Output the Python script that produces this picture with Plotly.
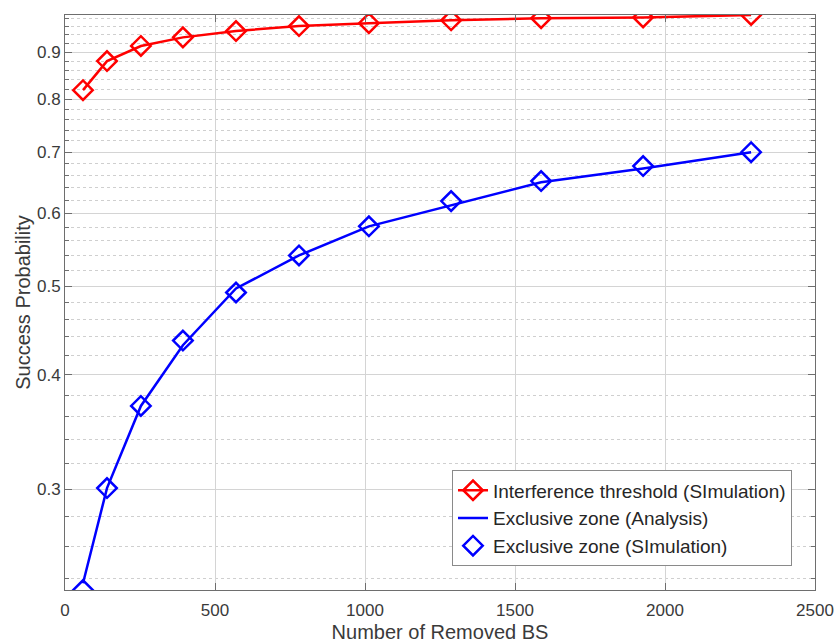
import numpy as np
import plotly.graph_objects as go

# Number of removed base stations
removed_bs = [60, 140, 253, 393, 570, 780, 1013, 1287, 1587, 1927, 2287]

# Success probability, interference-threshold scheme (simulation)
interference_sim = [0.818, 0.880, 0.914, 0.934, 0.949, 0.961, 0.968, 0.975, 0.980, 0.982, 0.988]

# Success probability, exclusive-zone scheme (analysis and simulation)
exclusive_ana = [0.237, 0.301, 0.370, 0.431, 0.497, 0.540, 0.581, 0.613, 0.649, 0.672, 0.700]
exclusive_sim = [0.233, 0.301, 0.370, 0.436, 0.492, 0.540, 0.581, 0.619, 0.651, 0.676, 0.700]

y_major = [0.3, 0.4, 0.5, 0.6, 0.7, 0.8, 0.9]
y_minor = [round(v, 2) for v in np.arange(0.24, 0.99, 0.02) if round(v * 10, 6) % 1 != 0]

RED = "#ff0000"
BLUE = "#0000ff"
FONT = "Liberation Sans, Arial, Helvetica, sans-serif"

fig = go.Figure()

fig.add_trace(go.Scatter(
    x=removed_bs, y=interference_sim, mode="lines+markers",
    name="Interference threshold (SImulation)",
    line=dict(color=RED, width=2.5),
    marker=dict(symbol="diamond-open", size=15, color=RED, line=dict(width=2.5, color=RED)),
))
fig.add_trace(go.Scatter(
    x=removed_bs, y=exclusive_ana, mode="lines",
    name="Exclusive zone (Analysis)",
    line=dict(color=BLUE, width=2.5),
))
fig.add_trace(go.Scatter(
    x=removed_bs, y=exclusive_sim, mode="markers",
    name="Exclusive zone (SImulation)",
    marker=dict(symbol="diamond-open", size=15, color=BLUE, line=dict(width=2.5, color=BLUE)),
))

axis_common = dict(
    showline=True, linecolor="#6e6e6e", linewidth=1, mirror="allticks",
    ticks="inside", ticklen=7, tickwidth=1, tickcolor="#6e6e6e",
    showgrid=True, gridcolor="#d4d4d4", gridwidth=1,
    zeroline=False, automargin=False,
    tickfont=dict(family=FONT, size=17, color="#3a3a3a"),
    title_font=dict(family=FONT, size=20, color="#3a3a3a"),
)

fig.update_xaxes(
    range=[0, 2500], tickmode="linear", tick0=0, dtick=500,
    ticklabelstandoff=5,
    title_text="Number of Removed BS", title_standoff=12,
    **axis_common,
)
fig.update_yaxes(
    type="log",
    range=[np.log10(min(exclusive_sim)), np.log10(max(interference_sim))],
    tickmode="array", tickvals=y_major, ticktext=[f"{v:.1f}" for v in y_major],
    title_text="Success Probability", title_standoff=0,
    minor=dict(tickmode="array", tickvals=y_minor, ticks="inside", ticklen=4,
               tickcolor="#6e6e6e", showgrid=True, gridcolor="#cfcfcf",
               griddash="dot", gridwidth=1),
    **axis_common,
)

fig.update_layout(
    width=837, height=643,
    margin=dict(l=65, r=22, t=15, b=53),
    paper_bgcolor="white", plot_bgcolor="white",
    font=dict(family=FONT, color="#262626"),
    legend=dict(
        x=0.516, y=0.208, xanchor="left", yanchor="top",
        bgcolor="white", bordercolor="#8a8a8a", borderwidth=1,
        font=dict(family=FONT, size=19, color="#262626"),
        tracegroupgap=0,
    ),
    showlegend=True,
)

fig.write_html("out.html")
